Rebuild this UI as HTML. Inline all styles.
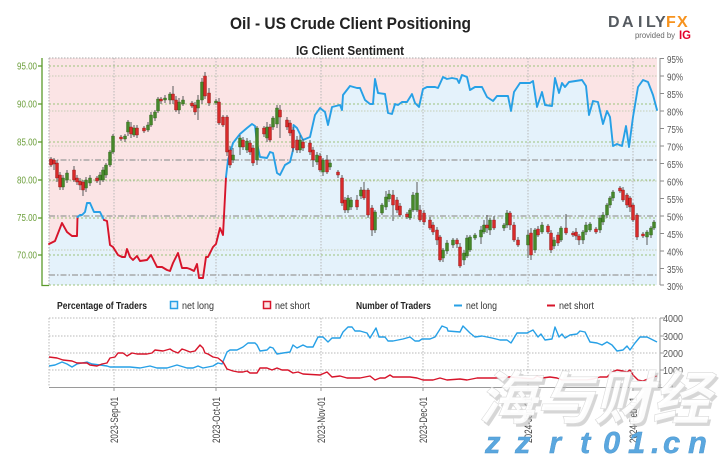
<!DOCTYPE html>
<html><head><meta charset="utf-8"><style>
html,body{margin:0;padding:0;background:#fff;}
svg{display:block;font-family:"Liberation Sans","Noto Sans CJK SC",sans-serif;}
</style></head><body>
<svg width="719" height="460" viewBox="0 0 719 460" xmlns="http://www.w3.org/2000/svg">
<rect width="719" height="460" fill="#fff"/>
<!-- titles -->
<text x="230" y="29" font-size="17" font-weight="bold" fill="#222" textLength="241" lengthAdjust="spacingAndGlyphs">Oil - US Crude Client Positioning</text>
<text x="296" y="55" font-size="12.5" font-weight="bold" fill="#222" textLength="108" lengthAdjust="spacingAndGlyphs">IG Client Sentiment</text>
<!-- logo -->
<text y="27" font-size="16" font-weight="bold" fill="#555a60"><tspan x="608">D</tspan><tspan x="622">A</tspan><tspan x="638">I</tspan><tspan x="646">L</tspan><tspan x="655">Y</tspan></text>
<text y="27" font-size="16" font-weight="bold" fill="#f7931e"><tspan x="666">F</tspan><tspan x="677">X</tspan></text>
<text x="635" y="38" font-size="8.5" fill="#666" textLength="40" lengthAdjust="spacingAndGlyphs">provided by</text>
<text x="679" y="39" font-size="12" font-weight="bold" fill="#e4002b" textLength="12" lengthAdjust="spacingAndGlyphs">IG</text>

<!-- main plot background -->
<rect x="49" y="58" width="608" height="227" fill="#fbe4e5"/>
<polygon fill="#e4f2fb" points="49,285 49,244 51,243 55,241 62,223 67,232 72,236 77,236 77.5,217 80,215 82,215 85,212 87,203 90,203 94,212 100,212 103,218 104,220 107,221 110,245 113,247 118,255 122,257 125,257 127,249 130,257 133,260 137,256 140,261 147,260 151,255 157,267 162,267 167,270 170,271 173,263 178,253 182,268 187,268 190,269 194,271 197,264 199,278 203,278 206,257 208,257 213,247 216,244 220,228 223,235 226,177 228,160 233,143 240,134 247,128 252,124 255,126 257,143 260,157 267,158 270,152 273,153 277,173 280,175 285,165 290,162 293,150 293.5,125 297,128 303,140 310,137 315,115 320,108 325,112 328,125 332,107 340,105 342,110 343,95 350,86 357,88 360,88 365,100 370,104 373,104 375,79 378,93 385,94 388,113 392,114 395,104 398,105 402,102 407,102 412,94 415,103 419,107 423,89 427,87 435,87 438,88 443,77 447,79 452,78 457,79 459,83 462,75 467,77 470,90 475,87 482,87 487,97 493,101 497,96 508,96 511,111 514,92 520,83 530,83 533,81 537,107 542,92 545,105 552,106 555,78 559,93 562,83 565,87 569,82 582,80 586,86 589,115 593,101 598,102 603,124 607,111 610,117 613,146 617,144 622,146 626,126 629,147 633,117 638,87 643,80 648,82 653,95 657,110 657,285"/>

<!-- grid -->
<g fill="none">
<path d="M49 58H657M49 58V285" stroke="#aaa" stroke-width="1" stroke-dasharray="1.5,1.5"/>
<path d="M114 58V285M216 58V285M321 58V285M423 58V285M528 58V285M633 58V285" stroke="#b8b8b8" stroke-width="1" stroke-dasharray="1.5,1.5"/>
<path d="M49 76H657M49 111H657M49 146H657M49 181H657M49 250H657" stroke="#c4cdb4" stroke-width="1" stroke-dasharray="1.5,1.5"/>
<path d="M49 66H657M49 104H657M49 142H657M49 180H657M49 218H657M49 255H657M49 285H657" stroke="#9cc37c" stroke-width="1" stroke-dasharray="2,2"/>
<path d="M49 160H657M49 216H657M49 275H657" stroke="#9a9a9a" stroke-width="1.3" stroke-dasharray="6,2,1.5,2"/>
</g>

<!-- sentiment line -->
<g fill="none" stroke-width="1.9" stroke-linejoin="round" stroke-linecap="round">
<polyline stroke="#d7142a" points="49,244 51,243 55,241 62,223 67,232 72,236 77,236 77.5,217"/>
<polyline stroke="#27a0e6" points="77.5,217 80,215 82,215 85,212 87,203 90,203 94,212 100,212 103,218 104,220"/>
<polyline stroke="#d7142a" points="104,220 107,221 110,245 113,247 118,255 122,257 125,257 127,249 130,257 133,260 137,256 140,261 147,260 151,255 157,267 162,267 167,270 170,271 173,263 178,253 182,268 187,268 190,269 194,271 197,264 199,278 203,278 206,257 208,257 213,247 216,244 220,228 223,235 226,177"/>
<polyline stroke="#27a0e6" points="226,177 228,160 233,143 240,134 247,128 252,124 255,126 257,143 260,157 267,158 270,152 273,153 277,173 280,175 285,165 290,162 293,150 293.5,125 297,128 303,140 310,137 315,115 320,108 325,112 328,125 332,107 340,105 342,110 343,95 350,86 357,88 360,88 365,100 370,104 373,104 375,79 378,93 385,94 388,113 392,114 395,104 398,105 402,102 407,102 412,94 415,103 419,107 423,89 427,87 435,87 438,88 443,77 447,79 452,78 457,79 459,83 462,75 467,77 470,90 475,87 482,87 487,97 493,101 497,96 508,96 511,111 514,92 520,83 530,83 533,81 537,107 542,92 545,105 552,106 555,78 559,93 562,83 565,87 569,82 582,80 586,86 589,115 593,101 598,102 603,124 607,111 610,117 613,146 617,144 622,146 626,126 629,147 633,117 638,87 643,80 648,82 653,95 657,110"/>
</g>

<!-- candles -->
<path fill="none" stroke="#5a5a5a" stroke-width="1" d="M51 157V167M54 158V170M57 160V182M60 172V190M63 175V190M67 170V183M74 166V182M77 175V185M80 178V190M83 180V196M86 177V192M90 175V186M97 176V183M100 172V185M103 167V182M106 163V178M110 150V167M113 134V154M121 135V141M125 134V142M128 120V136M131 122V138M134 125V137M137 125V138M144 126V133M148 122V132M151 112V127M155 110V121M158 97V113M161 97V104M165 95V103M170 92V104M173 86V104M176 96V112M179 98V114M183 96V106M192 101V108M195 102V115M198 95V120M202 78V104M205 72V99M209 88V106M216 99V105M219 98V125M223 115V127M227 115V156M230 146V168M233 148V163M240 135V155M243 137V150M247 138V153M250 140V155M253 145V166M257 126V165M264 126V137M267 122V142M270 124V142M273 116V130M277 105V128M280 105V138M287 117V130M290 120V136M293 127V152M297 136V153M300 135V153M303 139V151M310 140V155M313 147V167M317 152V165M320 153V172M323 158V176M327 155V174M330 160V170M338 170V178M342 175V206M345 197V213M348 195V213M351 197V210M357 195V210M361 187V199M364 182V200M368 188V218M372 205V236M375 210V233M382 203V215M386 191V210M389 190V202M393 190V221M397 197V213M400 203V217M407 212V219M410 208V220M413 192V212M417 182V212M420 205V222M424 210V225M430 217V230M433 222V235M437 227V245M440 235V262M443 248V262M447 240V254M453 238V248M457 238V248M460 243V268M464 250V265M467 235V258M470 235V252M475 233V240M481 226V244M484 220V234M487 215V233M490 218V235M494 216V230M504 223V231M507 210V228M510 211V230M514 222V242M518 237V247M528 230V258M531 228V260M535 228V253M538 226V237M542 222V234M548 224V234M551 230V253M554 237V249M558 232V246M561 226V242M566 214V235M573 231V237M576 228V240M579 234V245M583 230V244M586 222V235M590 222V232M596 227V234M600 215V233M603 212V225M607 203V218M610 196V208M613 190V201M620 186V193M623 187V202M627 193V208M630 196V212M633 203V222M637 213V240M643 232V238M647 230V245M651 226V238M654 220V230"/>
<path fill="#46882a" stroke="#2f5f1c" stroke-width="0.4" d="M61.5,178h3v9h-3zM65.5,173h3v7h-3zM84.5,180h3v8h-3zM88.5,178h3v5h-3zM98.5,175h3v5h-3zM101.5,170h3v10h-3zM104.5,165h3v10h-3zM108.5,152h3v13h-3zM111.5,136h3v16h-3zM123.5,136h3v3h-3zM126.5,122h3v10h-3zM132.5,128h3v7h-3zM146.5,125h3v5h-3zM149.5,115h3v10h-3zM153.5,112h3v6h-3zM156.5,99h3v12h-3zM163.5,98h3v2h-3zM168.5,94h3v6h-3zM177.5,102h3v8h-3zM181.5,100h3v4h-3zM196.5,100h3v8h-3zM200.5,82h3v18h-3zM214.5,101h3v2h-3zM231.5,155h3v5h-3zM238.5,138h3v9h-3zM245.5,141h3v9h-3zM255.5,128h3v32h-3zM265.5,127h3v11h-3zM271.5,118h3v9h-3zM275.5,108h3v16h-3zM298.5,140h3v10h-3zM315.5,155h3v7h-3zM321.5,160h3v12h-3zM328.5,163h3v4h-3zM346.5,198h3v12h-3zM349.5,200h3v7h-3zM359.5,190h3v6h-3zM373.5,212h3v18h-3zM380.5,205h3v8h-3zM384.5,197h3v10h-3zM387.5,194h3v5h-3zM408.5,210h3v8h-3zM411.5,195h3v15h-3zM415.5,193h3v17h-3zM441.5,250h3v8h-3zM445.5,243h3v8h-3zM451.5,240h3v5h-3zM462.5,253h3v7h-3zM465.5,238h3v18h-3zM468.5,237h3v13h-3zM473.5,235h3v3h-3zM479.5,230h3v7h-3zM482.5,225h3v7h-3zM488.5,220h3v10h-3zM502.5,225h3v3h-3zM505.5,213h3v12h-3zM526.5,235h3v10h-3zM533.5,230h3v20h-3zM540.5,225h3v7h-3zM552.5,240h3v6h-3zM559.5,228h3v12h-3zM581.5,232h3v8h-3zM584.5,225h3v7h-3zM588.5,224h3v6h-3zM598.5,218h3v12h-3zM601.5,215h3v7h-3zM605.5,205h3v10h-3zM608.5,198h3v7h-3zM611.5,192h3v6h-3zM645.5,232h3v5h-3zM649.5,228h3v7h-3zM652.5,222h3v6h-3z"/>
<path fill="#d82a2a" stroke="#8a1a1a" stroke-width="0.4" d="M49.5,159h3v6h-3zM52.5,160h3v4h-3zM55.5,163h3v15h-3zM58.5,175h3v12h-3zM72.5,170h3v10h-3zM75.5,178h3v4h-3zM78.5,181h3v4h-3zM81.5,182h3v8h-3zM95.5,178h3v3h-3zM119.5,137h3v2h-3zM129.5,127h3v7h-3zM135.5,128h3v7h-3zM142.5,128h3v3h-3zM159.5,99h3v2h-3zM171.5,94h3v6h-3zM174.5,100h3v10h-3zM190.5,103h3v3h-3zM193.5,105h3v7h-3zM203.5,76h3v20h-3zM207.5,93h3v10h-3zM217.5,102h3v21h-3zM221.5,117h3v8h-3zM225.5,117h3v35h-3zM228.5,150h3v15h-3zM241.5,140h3v7h-3zM248.5,143h3v9h-3zM251.5,148h3v15h-3zM262.5,128h3v6h-3zM268.5,127h3v13h-3zM278.5,110h3v7h-3zM285.5,120h3v7h-3zM288.5,123h3v10h-3zM291.5,130h3v18h-3zM295.5,140h3v10h-3zM301.5,142h3v6h-3zM308.5,143h3v9h-3zM311.5,150h3v10h-3zM318.5,156h3v14h-3zM325.5,160h3v12h-3zM336.5,172h3v3h-3zM340.5,178h3v25h-3zM343.5,200h3v10h-3zM355.5,200h3v7h-3zM362.5,190h3v8h-3zM366.5,190h3v25h-3zM370.5,208h3v22h-3zM391.5,195h3v10h-3zM395.5,200h3v10h-3zM398.5,206h3v9h-3zM405.5,214h3v3h-3zM418.5,210h3v10h-3zM422.5,213h3v9h-3zM428.5,220h3v8h-3zM431.5,225h3v7h-3zM435.5,230h3v10h-3zM438.5,237h3v23h-3zM455.5,240h3v4h-3zM458.5,247h3v19h-3zM485.5,225h3v3h-3zM492.5,220h3v8h-3zM508.5,213h3v12h-3zM512.5,225h3v15h-3zM516.5,240h3v5h-3zM529.5,233h3v22h-3zM536.5,229h3v6h-3zM546.5,226h3v6h-3zM549.5,233h3v17h-3zM556.5,235h3v8h-3zM564.5,228h3v5h-3zM571.5,233h3v2h-3zM574.5,232h3v4h-3zM577.5,236h3v4h-3zM594.5,229h3v3h-3zM618.5,188h3v3h-3zM621.5,190h3v10h-3zM625.5,195h3v10h-3zM628.5,198h3v9h-3zM631.5,205h3v15h-3zM635.5,215h3v22h-3zM641.5,234h3v2h-3z"/>

<!-- left axis -->
<path d="M42 58V285.5H49M38 66H42M38 104H42M38 142H42M38 180H42M38 218H42M38 255H42" fill="none" stroke="#5a9a2a" stroke-width="1.3"/>
<g font-size="10" fill="#6b9e3a">
<text x="17" y="69.5" textLength="20" lengthAdjust="spacingAndGlyphs">95.00</text>
<text x="17" y="107.5" textLength="20" lengthAdjust="spacingAndGlyphs">90.00</text>
<text x="17" y="145.5" textLength="20" lengthAdjust="spacingAndGlyphs">85.00</text>
<text x="17" y="183.5" textLength="20" lengthAdjust="spacingAndGlyphs">80.00</text>
<text x="17" y="221" textLength="20" lengthAdjust="spacingAndGlyphs">75.00</text>
<text x="17" y="258.5" textLength="20" lengthAdjust="spacingAndGlyphs">70.00</text>
</g>
<!-- right axis -->
<path d="M660 58V285M660 58.5H664M660 76H664M660 93.5H664M660 111H664M660 128.5H664M660 146H664M660 163.5H664M660 181H664M660 198.5H664M660 216H664M660 233.5H664M660 251H664M660 268.5H664M660 285H664" fill="none" stroke="#8a8a8a" stroke-width="1"/>
<g font-size="10.5" fill="#555">
<text x="667" y="63" textLength="16" lengthAdjust="spacingAndGlyphs">95%</text>
<text x="667" y="80.5" textLength="16" lengthAdjust="spacingAndGlyphs">90%</text>
<text x="667" y="98" textLength="16" lengthAdjust="spacingAndGlyphs">85%</text>
<text x="667" y="115.5" textLength="16" lengthAdjust="spacingAndGlyphs">80%</text>
<text x="667" y="133" textLength="16" lengthAdjust="spacingAndGlyphs">75%</text>
<text x="667" y="150.5" textLength="16" lengthAdjust="spacingAndGlyphs">70%</text>
<text x="667" y="168" textLength="16" lengthAdjust="spacingAndGlyphs">65%</text>
<text x="667" y="185.5" textLength="16" lengthAdjust="spacingAndGlyphs">60%</text>
<text x="667" y="203" textLength="16" lengthAdjust="spacingAndGlyphs">55%</text>
<text x="667" y="220.5" textLength="16" lengthAdjust="spacingAndGlyphs">50%</text>
<text x="667" y="238" textLength="16" lengthAdjust="spacingAndGlyphs">45%</text>
<text x="667" y="255.5" textLength="16" lengthAdjust="spacingAndGlyphs">40%</text>
<text x="667" y="273" textLength="16" lengthAdjust="spacingAndGlyphs">35%</text>
<text x="667" y="290" textLength="16" lengthAdjust="spacingAndGlyphs">30%</text>
</g>

<!-- legend -->
<text x="57" y="309" font-size="10" font-weight="bold" fill="#222" textLength="90" lengthAdjust="spacingAndGlyphs">Percentage of Traders</text>
<rect x="170.5" y="301.5" width="7" height="7" fill="#e4f2fb" stroke="#27a0e6" stroke-width="1.5"/>
<text x="182" y="309" font-size="10" fill="#333" textLength="32" lengthAdjust="spacingAndGlyphs">net long</text>
<rect x="263.5" y="301.5" width="7" height="7" fill="#fbe4e5" stroke="#d7142a" stroke-width="1.5"/>
<text x="275" y="309" font-size="10" fill="#333" textLength="35" lengthAdjust="spacingAndGlyphs">net short</text>
<text x="356" y="309" font-size="10" font-weight="bold" fill="#222" textLength="75" lengthAdjust="spacingAndGlyphs">Number of Traders</text>
<path d="M454 305.5H462" stroke="#27a0e6" stroke-width="2"/>
<text x="466" y="309" font-size="10" fill="#333" textLength="31" lengthAdjust="spacingAndGlyphs">net long</text>
<path d="M547 305.5H555" stroke="#d7142a" stroke-width="2"/>
<text x="559" y="309" font-size="10" fill="#333" textLength="35" lengthAdjust="spacingAndGlyphs">net short</text>

<!-- bottom panel -->
<g fill="none">
<path d="M49 318H657M49 336H657M49 353H657M49 370H657M49 318V387M114 318V387M216 318V387M321 318V387M423 318V387M528 318V387M633 318V387" stroke="#b8b8b8" stroke-width="1" stroke-dasharray="1.5,1.5"/>
<path d="M49 387.5H660M660 318V387.5M660 318H664M660 336H664M660 353H664M660 370H664M660 387.5H664M114 387V391M216 387V391M321 387V391M423 387V391M528 387V391M633 387V391" stroke="#9a9a9a" stroke-width="1"/>
<polyline stroke="#27a0e6" stroke-width="1.4" stroke-linejoin="round" points="49,366 55,365 62,362 67,364 72,367 77,364 87,362 92,364 100,365 107,366 110,367 120,367 130,367 140,368 150,366 157,368 167,368 177,365 187,368 193,368 198,366 203,368 213,366 218,363 222,364 227,352 230,350 237,350 243,347 248,343 255,343 257,345 260,351 267,350 270,347 273,348 277,354 283,353 290,352 293,345 297,348 303,345 307,347 313,347 318,337 323,337 328,342 332,338 340,338 343,332 348,327 352,327 355,331 360,331 367,333 370,338 373,333 376,328 379,337 385,337 388,341 393,341 398,340 403,339 410,337 415,341 419,341 422,339 430,339 435,337 442,326 447,328 448,331 460,332 463,326 470,333 475,337 482,336 492,338 500,340 507,340 511,343 517,333 527,333 533,330 538,337 541,334 545,340 552,339 555,327 559,337 562,334 565,338 570,335 577,334 580,331 585,332 590,342 597,343 602,345 607,342 612,345 617,351 623,350 627,346 630,350 635,343 640,337 647,337 653,340 657,342"/>
<polyline stroke="#d7142a" stroke-width="1.4" stroke-linejoin="round" points="49,357 57,358 63,360 72,361 77,363 87,363 90,365 97,366 102,364 107,363 110,358 115,357 118,353 123,353 127,356 132,353 137,354 147,354 152,353 155,350 163,351 170,349 173,351 178,353 182,349 185,350 190,352 195,351 200,345 203,348 205,353 208,354 213,357 218,358 223,362 227,369 233,371 238,372 243,372 247,371 250,373 257,373 260,368 267,368 272,370 277,368 282,370 288,370 293,373 298,372 303,374 320,375 327,372 332,377 340,376 347,378 360,378 370,376 375,380 380,378 385,378 390,375 393,377 400,377 410,377 417,378 423,380 433,380 440,378 447,380 460,379 467,380 477,378 487,378 500,378 507,377 510,377 533,379 537,376 542,378 550,377 557,378 562,380 573,380 587,380 593,379 600,377 607,377 612,372 617,370 623,371 627,372 630,370 633,375 638,380 643,381 650,378 657,376"/>
</g>
<g font-size="10.5" fill="#555">
<text x="663" y="322" textLength="20" lengthAdjust="spacingAndGlyphs">4000</text>
<text x="663" y="340" textLength="20" lengthAdjust="spacingAndGlyphs">3000</text>
<text x="663" y="357" textLength="20" lengthAdjust="spacingAndGlyphs">2000</text>
<text x="663" y="374" textLength="20" lengthAdjust="spacingAndGlyphs">1000</text>
<text x="668" y="391" textLength="5" lengthAdjust="spacingAndGlyphs">0</text>
</g>
<!-- x labels -->
<g font-size="11" fill="#444" text-anchor="end">
<text transform="translate(118,397) rotate(-90)" textLength="46" lengthAdjust="spacingAndGlyphs">2023-Sep-01</text>
<text transform="translate(220,397) rotate(-90)" textLength="46" lengthAdjust="spacingAndGlyphs">2023-Oct-01</text>
<text transform="translate(325,397) rotate(-90)" textLength="46" lengthAdjust="spacingAndGlyphs">2023-Nov-01</text>
<text transform="translate(427,397) rotate(-90)" textLength="46" lengthAdjust="spacingAndGlyphs">2023-Dec-01</text>
<text transform="translate(532,397) rotate(-90)" textLength="46" lengthAdjust="spacingAndGlyphs">2024-Jan-01</text>
<text transform="translate(637,397) rotate(-90)" textLength="46" lengthAdjust="spacingAndGlyphs">2024-Feb-01</text>
</g>

<!-- watermark -->
<g transform="translate(478,419) skewX(-14)" font-size="58" font-weight="bold" font-family="'Liberation Sans','Noto Sans CJK SC',sans-serif">
<text x="3" y="3" fill="#b5b5b5" fill-opacity="0.55" textLength="232" lengthAdjust="spacingAndGlyphs">海与财经</text>
<text x="0" y="0" fill="#ffffff" fill-opacity="0.92" stroke="#d9d9d9" stroke-width="0.6" textLength="232" lengthAdjust="spacingAndGlyphs">海与财经</text>
</g>
<text y="453" font-size="31" font-weight="bold" font-style="italic" fill="#5aa7df" stroke="#4a95cc" stroke-width="0.4"><tspan x="485">z</tspan><tspan x="515">z</tspan><tspan x="549">r</tspan><tspan x="580">t</tspan><tspan x="603">0</tspan><tspan x="628">1</tspan><tspan x="651">.</tspan><tspan x="663">c</tspan><tspan x="688">n</tspan></text>
</svg>
</body></html>
